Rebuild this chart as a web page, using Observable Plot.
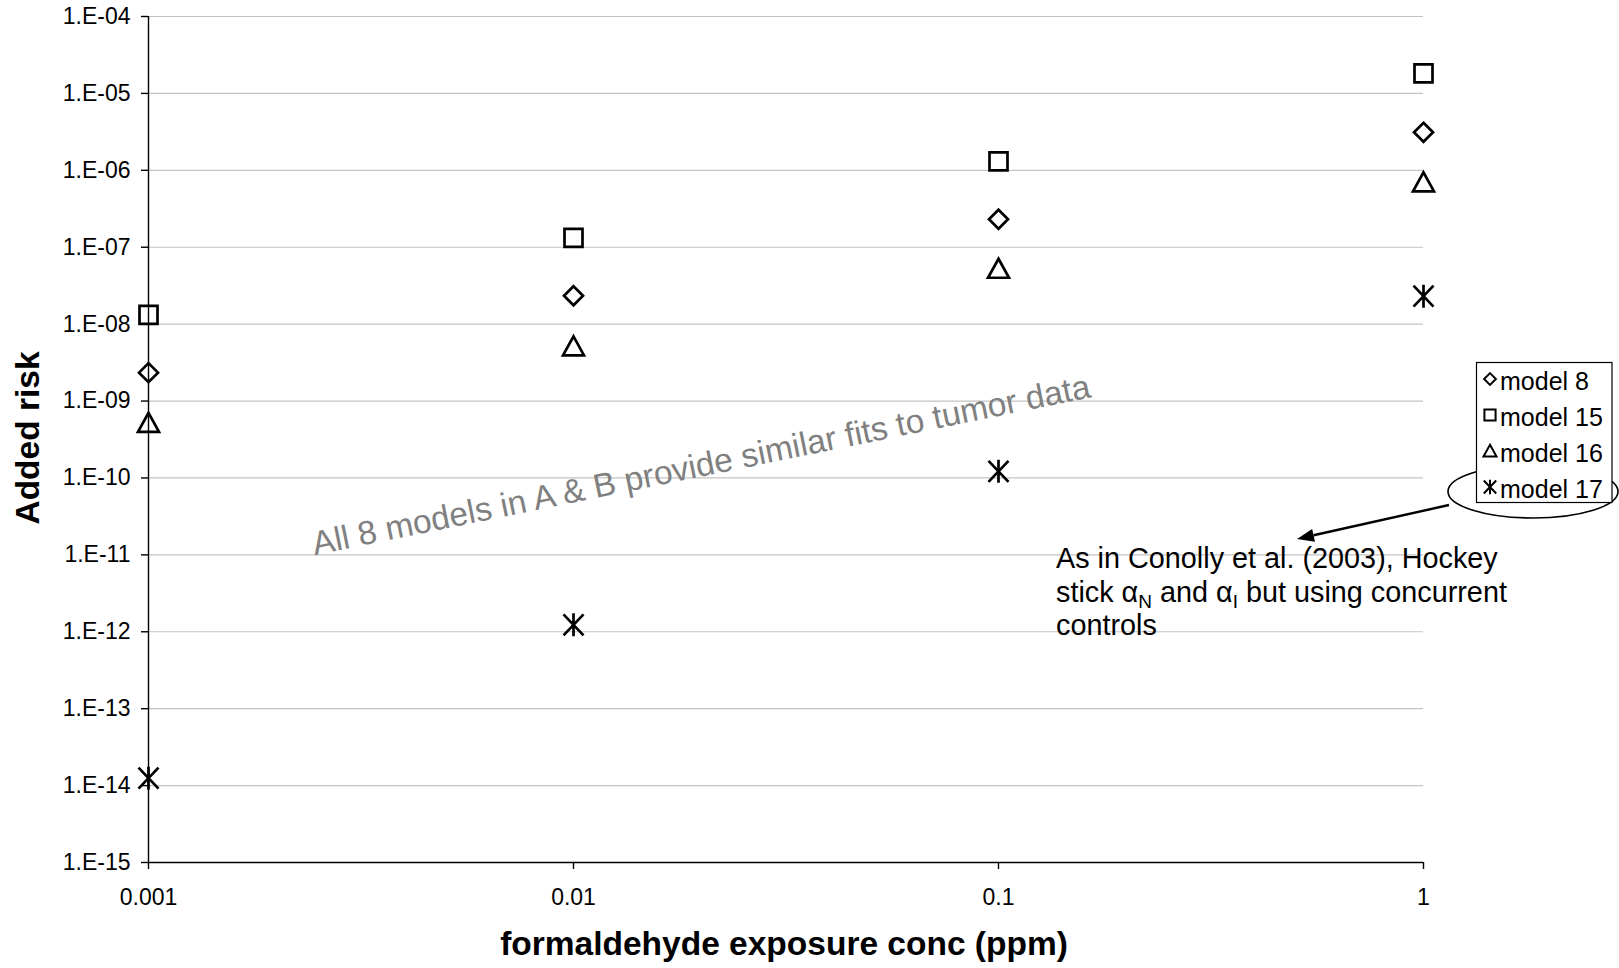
<!DOCTYPE html>
<html>
<head>
<meta charset="utf-8">
<script src="https://cdn.jsdelivr.net/npm/d3@7"></script>
<script src="https://cdn.jsdelivr.net/npm/@observablehq/plot@0.6"></script>
<style>
  html, body { margin: 0; padding: 0; background: #fff; }
  #chart svg { display: block; }
</style>
</head>
<body>
<div id="chart"></div>
<script>
// Exposure concentrations (ppm)
const conc = [0.001, 0.01, 0.1, 1];

// Added risk per model at each concentration
const model8  = [2.34e-9, 2.34e-8, 2.31e-7, 3.12e-6];
const model15 = [1.32e-8, 1.32e-7, 1.31e-6, 1.82e-5];
const model16 = [5.2e-10, 5.15e-9, 5.25e-8, 6.98e-7];
const model17 = [1.25e-14, 1.23e-12, 1.22e-10, 2.31e-8];

const modelNames = ["model 8", "model 15", "model 16", "model 17"];

// Axis ticks and labels
const xTicks = [0.001, 0.01, 0.1, 1];
const xTickLabels = ["0.001", "0.01", "0.1", "1"];
const yTicks = [1e-4, 1e-5, 1e-6, 1e-7, 1e-8, 1e-9, 1e-10, 1e-11, 1e-12, 1e-13, 1e-14, 1e-15];
const yTickLabels = ["1.E-04", "1.E-05", "1.E-06", "1.E-07", "1.E-08", "1.E-09", "1.E-10",
                     "1.E-11", "1.E-12", "1.E-13", "1.E-14", "1.E-15"];

const xTitle = "formaldehyde exposure conc (ppm)";
const yTitle = "Added risk";
const noteText = "All 8 models in A & B provide similar fits to tumor data";

// Long-format table for the dot mark
const seriesValues = [model8, model15, model16, model17];
const rows = conc.flatMap((c, i) =>
  modelNames.map((name, k) => ({conc: c, risk: seriesValues[k][i], model: name})));

// Open marker shapes drawn at a fixed pixel size
function makeShapes(s) {
  return [
    {draw(ctx) { ctx.moveTo(0, -9.5 * s); ctx.lineTo(9.5 * s, 0); ctx.lineTo(0, 9.5 * s); ctx.lineTo(-9.5 * s, 0); ctx.closePath(); }},
    {draw(ctx) { ctx.moveTo(-9 * s, -9 * s); ctx.lineTo(9 * s, -9 * s); ctx.lineTo(9 * s, 9 * s); ctx.lineTo(-9 * s, 9 * s); ctx.closePath(); }},
    {draw(ctx) { ctx.moveTo(0, -10 * s); ctx.lineTo(10.5 * s, 9 * s); ctx.lineTo(-10.5 * s, 9 * s); ctx.closePath(); }},
    {draw(ctx) {
      ctx.moveTo(-10 * s, -10.5 * s); ctx.lineTo(10 * s, 10.5 * s);
      ctx.moveTo(-10 * s, 10.5 * s); ctx.lineTo(10 * s, -10.5 * s);
      ctx.moveTo(0, -11.5 * s); ctx.lineTo(0, 11.5 * s);
    }}
  ];
}
const shapes = makeShapes(1);

const FONT = "'Liberation Sans', Arial, Helvetica, sans-serif";
const W = 1619, H = 968;
const mL = 148, mR = 196, mT = 16, mB = 106;

const chart = Plot.plot({
  width: W,
  height: H,
  marginLeft: mL,
  marginRight: mR,
  marginTop: mT,
  marginBottom: mB,
  style: {fontFamily: FONT, fontSize: "23px", color: "#000", background: "#fff", overflow: "visible"},
  x: {type: "log", domain: [0.001, 1]},
  y: {type: "log", domain: [1e-15, 1e-4]},
  symbol: {domain: modelNames, range: shapes},
  marks: [
    Plot.ruleY(yTicks.filter(v => v > 1e-15), {stroke: "#c3c3c3", strokeWidth: 1.2}),
    Plot.ruleX([0.001], {stroke: "#000", strokeWidth: 1.4}),
    Plot.ruleY([1e-15], {stroke: "#000", strokeWidth: 1.4}),
    Plot.axisY({
      ticks: yTicks,
      tickFormat: d => yTickLabels[yTicks.indexOf(d)],
      tickSize: 7, tickPadding: 11, label: null, fontSize: 23, strokeWidth: 1.4
    }),
    Plot.axisX({
      ticks: xTicks,
      tickFormat: d => xTickLabels[xTicks.indexOf(d)],
      tickSize: 7, tickPadding: 19, label: null, fontSize: 23, strokeWidth: 1.4
    }),
    Plot.dot(rows, {
      x: "conc", y: "risk", symbol: "model",
      fill: "none", stroke: "#000", strokeWidth: 2.7, r: 10
    })
  ]
});

document.getElementById("chart").appendChild(chart);

// Titles and annotation layer
const svg = d3.select(chart);
const ann = svg.append("g").attr("font-family", FONT).attr("text-anchor", "start");

ann.append("text")
  .attr("x", 784).attr("y", 955)
  .attr("text-anchor", "middle").attr("font-size", 33.5).attr("font-weight", "bold").attr("fill", "#000")
  .text(xTitle);

ann.append("text")
  .attr("transform", "translate(38.5,438) rotate(-90)")
  .attr("text-anchor", "middle").attr("font-size", 33.5).attr("font-weight", "bold").attr("fill", "#000")
  .text(yTitle);

ann.append("text")
  .attr("transform", "translate(1092,397) rotate(-11.5)")
  .attr("text-anchor", "end").attr("font-size", 33.5).attr("fill", "#808080")
  .text(noteText);

ann.append("ellipse")
  .attr("cx", 1533).attr("cy", 491.5).attr("rx", 85).attr("ry", 26.5)
  .attr("fill", "none").attr("stroke", "#000").attr("stroke-width", 1.6);

const legend = ann.append("g");
legend.append("rect")
  .attr("x", 1476.5).attr("y", 362.5).attr("width", 135.5).attr("height", 140)
  .attr("fill", "#fff").attr("stroke", "#000").attr("stroke-width", 1.2);

const smallShapes = makeShapes(0.62);
modelNames.forEach((name, i) => {
  const cy = 379 + i * 36;
  legend.append("path")
    .attr("d", d3.symbol(smallShapes[i])())
    .attr("transform", `translate(1490,${cy})`)
    .attr("fill", "none").attr("stroke", "#000").attr("stroke-width", 2);
  legend.append("text")
    .attr("x", 1500).attr("y", cy + 10.5)
    .attr("font-size", 25).attr("fill", "#000")
    .text(name);
});

// Arrow pointing from the ellipse to the callout text
const x0 = 1449, y0 = 505, x1 = 1297, y1 = 539;
const ang = Math.atan2(y1 - y0, x1 - x0);
const headLen = 17, headHalf = 6.5;
const bx = x1 - headLen * Math.cos(ang), by = y1 - headLen * Math.sin(ang);
ann.append("line")
  .attr("x1", x0).attr("y1", y0).attr("x2", bx).attr("y2", by)
  .attr("stroke", "#000").attr("stroke-width", 2.4);
ann.append("path")
  .attr("d", `M${x1},${y1}L${bx - headHalf * Math.sin(ang)},${by + headHalf * Math.cos(ang)}L${bx + headHalf * Math.sin(ang)},${by - headHalf * Math.cos(ang)}Z`)
  .attr("fill", "#000");

const callout = ann.append("text")
  .attr("font-size", 28.8).attr("fill", "#000");
callout.append("tspan").attr("x", 1056).attr("y", 568).text("As in Conolly et al. (2003), Hockey");
const l2 = callout.append("tspan").attr("x", 1056).attr("y", 602);
l2.append("tspan").text("stick α");
l2.append("tspan").attr("font-size", 19).attr("dy", 6).text("N");
l2.append("tspan").attr("dy", -6).text(" and α");
l2.append("tspan").attr("font-size", 19).attr("dy", 6).text("I");
l2.append("tspan").attr("dy", -6).text(" but using concurrent");
callout.append("tspan").attr("x", 1056).attr("y", 635).text("controls");
</script>
</body>
</html>
